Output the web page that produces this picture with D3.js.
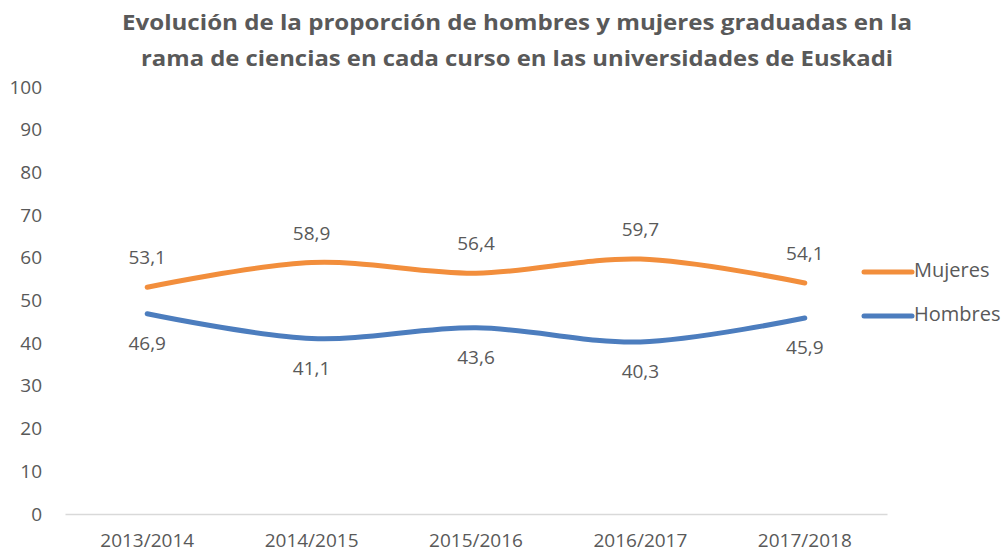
<!DOCTYPE html>
<html>
<head>
<meta charset="utf-8">
<script src="https://cdn.jsdelivr.net/npm/d3@7"></script>
<style>
  html, body { margin: 0; padding: 0; background: #fff; }
  #chart { width: 1006px; height: 554px; }
  text { font-family: "Open Sans", "Noto Sans", sans-serif; fill: #595959; }
</style>
</head>
<body>
<div id="chart"></div>
<script>
const cursos  = ['2013/2014', '2014/2015', '2015/2016', '2016/2017', '2017/2018'];
const mujeres = [53.1, 58.9, 56.4, 59.7, 54.1];
const hombres = [46.9, 41.1, 43.6, 40.3, 45.9];
const yTicks  = [0, 10, 20, 30, 40, 50, 60, 70, 80, 90, 100];
const titleLines = [
  'Evolución de la proporción de hombres y mujeres graduadas  en la',
  'rama de ciencias en cada curso en las universidades de Euskadi'
];

const series = [
  { name: 'Mujeres', values: mujeres, color: '#F28E3C', labelDy: -28 },
  { name: 'Hombres', values: hombres, color: '#4C7DBE', labelDy: 31 }
];

const width = 1006, height = 554;
const margin = { top: 87, right: 119, bottom: 40, left: 65 };
const innerW = width - margin.left - margin.right;
const innerH = height - margin.top - margin.bottom;

const svg = d3.select('#chart').append('svg')
  .attr('width', width)
  .attr('height', height);

// Title
svg.append('g').selectAll('text').data(titleLines).join('text')
  .attr('x', 517)
  .attr('y', (d, i) => 30 + i * 36)
  .attr('text-anchor', 'middle')
  .attr('font-size', 22)
  .attr('font-weight', 'bold')
  .attr('textLength', (d, i) => i === 0 ? 790 : 752)
  .attr('lengthAdjust', 'spacingAndGlyphs')
  .text(d => d);

const g = svg.append('g').attr('transform', `translate(${margin.left},${margin.top})`);

const x = d3.scaleBand().domain(cursos).range([0, innerW]);
const y = d3.scaleLinear().domain([0, 100]).range([innerH, 0]);

// Y axis (labels only)
g.append('g')
  .call(d3.axisLeft(y).tickValues(yTicks).tickSize(0).tickPadding(23))
  .call(a => a.select('.domain').remove())
  .call(a => a.selectAll('text')
    .attr('font-size', 19)
    .attr('fill', '#595959')
    .attr('font-family', '"Open Sans", sans-serif'));

// X axis
g.append('g')
  .attr('transform', `translate(0,${innerH})`)
  .call(d3.axisBottom(x).tickSize(0).tickPadding(20))
  .call(a => a.select('.domain').attr('stroke', '#d9d9d9').attr('stroke-width', 1.5))
  .call(a => a.selectAll('text')
    .attr('font-size', 19)
    .attr('fill', '#595959')
    .attr('font-family', '"Open Sans", sans-serif'));

const line = d3.line()
  .x((d, i) => x(cursos[i]) + x.bandwidth() / 2)
  .y(d => y(d))
  .curve(d3.curveCatmullRom.alpha(0.5));

const fmt = v => v.toFixed(1).replace('.', ',');

series.forEach(s => {
  g.append('path')
    .datum(s.values)
    .attr('fill', 'none')
    .attr('stroke', s.color)
    .attr('stroke-width', 5)
    .attr('stroke-linecap', 'round')
    .attr('d', line);

  g.append('g').selectAll('text').data(s.values).join('text')
    .attr('x', (d, i) => x(cursos[i]) + x.bandwidth() / 2)
    .attr('y', d => y(d) + s.labelDy)
    .attr('text-anchor', 'middle')
    .attr('dominant-baseline', 'middle')
    .attr('font-size', 19)
    .text(d => fmt(d));
});

// Legend
const legend = svg.append('g').attr('transform', 'translate(862,272)');
const li = legend.selectAll('g').data(series).join('g')
  .attr('transform', (d, i) => `translate(0,${i * 44})`);
li.append('line')
  .attr('x1', 2).attr('x2', 50)
  .attr('stroke', d => d.color)
  .attr('stroke-width', 5)
  .attr('stroke-linecap', 'round');
li.append('text')
  .attr('x', 52)
  .attr('dominant-baseline', 'middle')
  .attr('font-size', 20)
  .text(d => d.name);
</script>
</body>
</html>
